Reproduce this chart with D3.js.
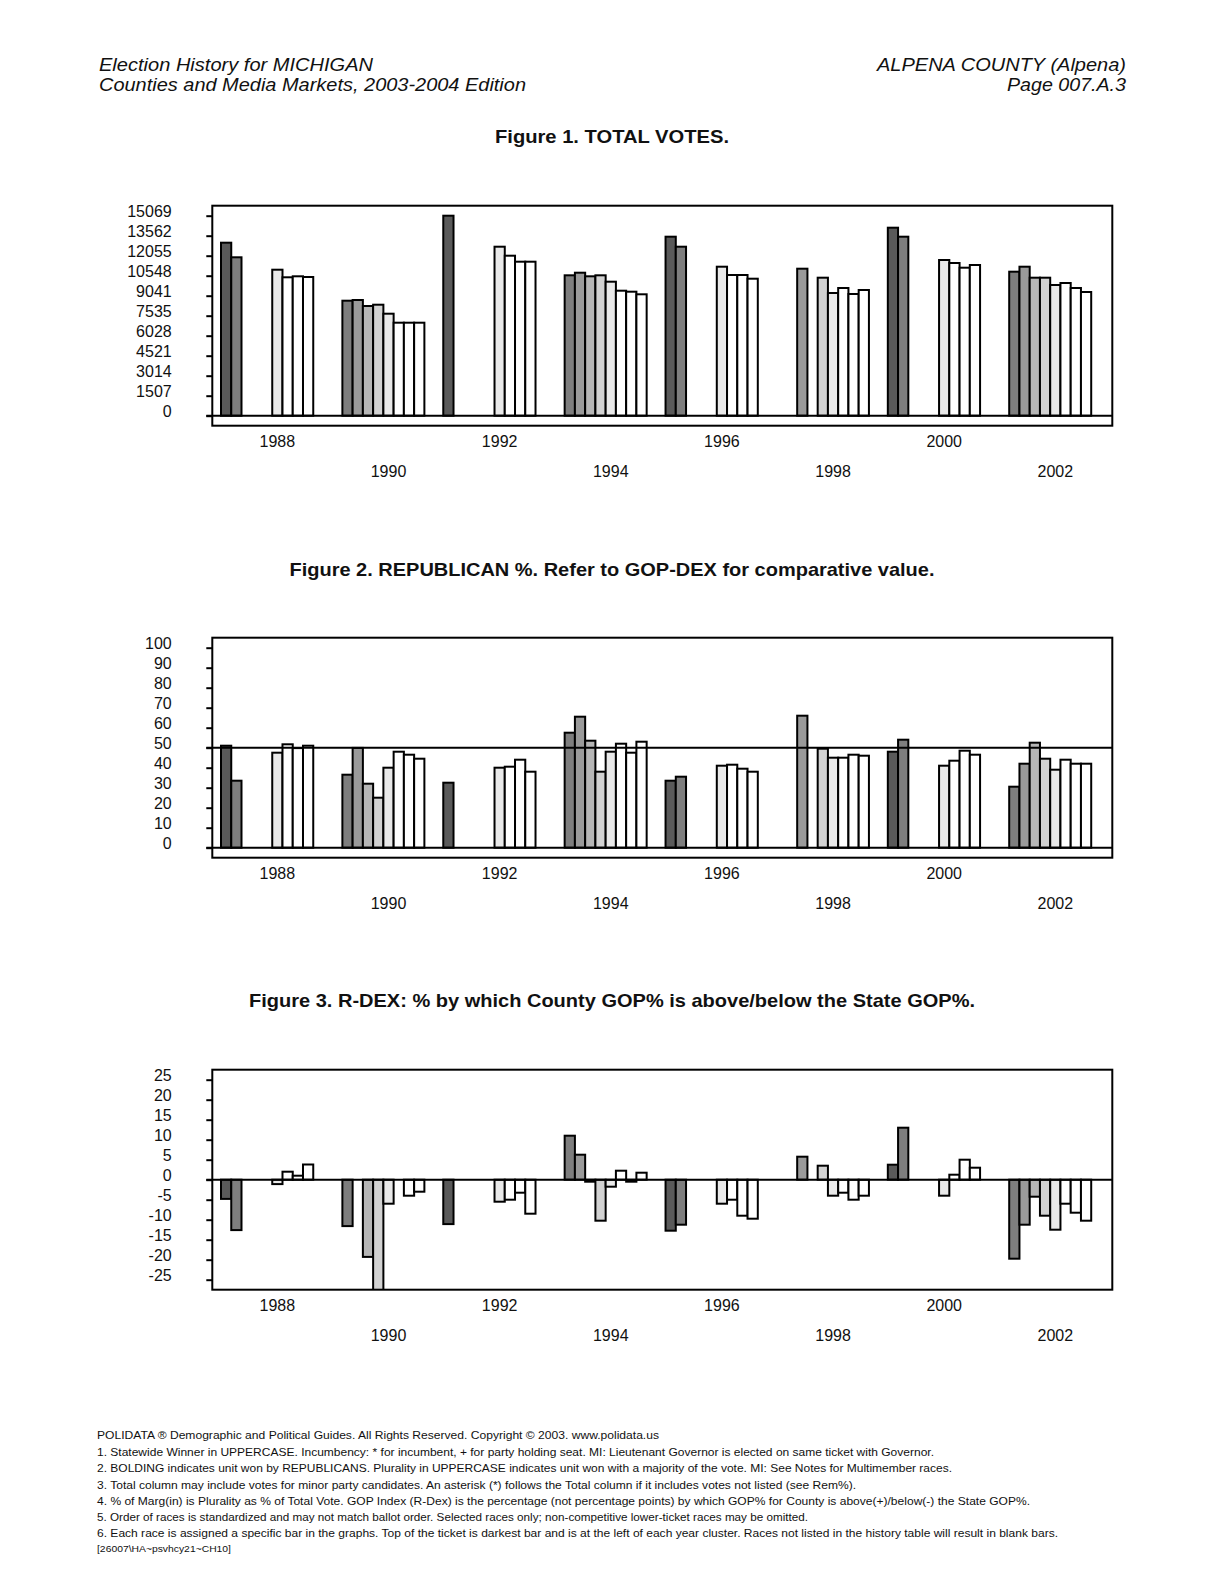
<!DOCTYPE html>
<html>
<head>
<meta charset="utf-8">
<script src="https://cdn.jsdelivr.net/npm/d3@7/dist/d3.min.js"></script>
<style>
  html, body { margin: 0; padding: 0; background: #fff; }
  text { font-family: "Liberation Sans", Arial, Helvetica, sans-serif; }
</style>
</head>
<body>
<script>
// ---------------- DATA ----------------
const years = [1988, 1990, 1992, 1994, 1996, 1998, 2000, 2002];
// 9 race slots per year cluster (left = top of the ticket); null = race not listed
const totalVotes = [
  [13035, 11935, null, null, null, 11000, 10428, 10503, 10450],
  [null, 8665, 8717, 8265, 8363, 7685, 7007, 7007, 7007],
  [15069, null, null, null, null, 12733, 12055, 11603, 11603],
  [null, 10578, 10774, 10503, 10578, 10096, 9418, 9343, 9147],
  [13487, 12733, null, null, null, 11226, 10601, 10601, 10322],
  [null, null, 11076, null, 10398, 9245, 9622, 9170, 9471],
  [14165, 13487, null, null, null, 11731, 11505, 11151, 11354],
  [null, 10850, 11226, 10398, 10398, 9848, 9998, 9622, 9320]
];
const gopPct = [
  [51, 33.5, null, null, null, 47.5, 51.7, 49.8, 51],
  [null, 36.5, 49.9, 32, 25, 40, 48, 46.5, 44.5],
  [32.5, null, null, null, null, 40, 40.5, 44, 38],
  [null, 57.5, 65.5, 53.5, 38, 48, 52, 47.5, 53],
  [33.5, 35.5, null, null, null, 41, 41.5, 39.5, 38],
  [null, null, 66, null, 49.5, 45, 45, 46.5, 46],
  [48, 54, null, null, null, 41, 43.5, 48.5, 46.5],
  [null, 30.5, 42, 52.5, 44.5, 39, 44, 42, 42]
];
const rdex = [
  [-4.8, -12.6, null, null, null, -1.1, 2, 1, 3.8],
  [null, -11.6, 0, -19.3, -30, -6, 0, -4, -3],
  [-11.1, null, null, null, null, -5.5, -5, -3.25, -8.5],
  [null, 11, 6.25, -0.5, -10.25, -1.75, 2.25, -0.5, 1.75],
  [-12.75, -11.25, null, null, null, -6, -5, -9, -9.75],
  [null, null, 5.75, null, 3.5, -4, -3.25, -5, -4],
  [3.75, 13, null, null, null, -4, 1.25, 5, 3],
  [null, -19.75, -11.25, -4.25, -9, -12.5, -6, -8.25, -10.25]
];
const votesTicks = ["0","1507","3014","4521","6028","7535","9041","10548","12055","13562","15069"];
const pctTicks = ["0","10","20","30","40","50","60","70","80","90","100"];
const rdexTicks = ["-25","-20","-15","-10","-5","0","5","10","15","20","25"];

const titles = [
  "Figure 1. TOTAL VOTES.",
  "Figure 2. REPUBLICAN %. Refer to GOP-DEX for comparative value.",
  "Figure 3. R-DEX: % by which County GOP% is above/below the State GOP%."
];
const headerLeft = ["Election History for MICHIGAN", "Counties and Media Markets, 2003-2004 Edition"];
const headerRight = ["ALPENA COUNTY (Alpena)", "Page 007.A.3"];
const footer = [
  "POLIDATA \u00AE Demographic and Political Guides. All Rights Reserved. Copyright \u00A9 2003. www.polidata.us",
  "1. Statewide Winner in UPPERCASE. Incumbency: * for incumbent, + for party holding seat. MI: Lieutenant Governor is elected on same ticket with Governor.",
  "2. BOLDING indicates unit won by REPUBLICANS. Plurality in UPPERCASE indicates unit won with a majority of the vote. MI: See Notes for Multimember races.",
  "3. Total column may include votes for minor party candidates. An asterisk (*) follows the Total column if it includes votes not listed (see Rem%).",
  "4. % of Marg(in) is Plurality as % of Total Vote. GOP Index (R-Dex) is the percentage (not percentage points) by which GOP% for County is above(+)/below(-) the State GOP%.",
  "5. Order of races is standardized and may not match ballot order. Selected races only; non-competitive lower-ticket races may be omitted.",
  "6. Each race is assigned a specific bar in the graphs. Top of the ticket is darkest bar and is at the left of each year cluster. Races not listed in the history table will result in blank bars.",
  "[26007\\HA~psvhcy21~CH10]"
];

// ---------------- STYLE / LAYOUT ----------------
const slotFills = ["#5a5a5a", "#7e7e7e", "#9a9a9a", "#b6b6b6", "#d2d2d2", "#e9e9e9", "#ffffff", "#ffffff", "#ffffff"];
const W = 1224, H = 1583;
const frameL = 212.3, frameR = 1112.3, frameH = 220;

const svg = d3.select("body").append("svg")
  .attr("width", W).attr("height", H)
  .attr("viewBox", `0 0 ${W} ${H}`);
svg.append("rect").attr("width", W).attr("height", H).attr("fill", "#fff");

// header
const hdr = svg.append("g").attr("font-style", "italic").attr("font-size", 18).attr("fill", "#111");
const hlLens = [274, 427];
const hrLens = [249, 119];
headerLeft.forEach((t, i) => {
  hdr.append("text").attr("x", 99).attr("y", 71 + i * 20).text(t)
    .attr("textLength", hlLens[i]).attr("lengthAdjust", "spacingAndGlyphs");
});
headerRight.forEach((t, i) => {
  hdr.append("text").attr("x", 1126).attr("y", 71 + i * 20).attr("text-anchor", "end").text(t)
    .attr("textLength", hrLens[i]).attr("lengthAdjust", "spacingAndGlyphs");
});

// shared x scales
const x0 = d3.scaleBand().domain(years).range([221, 1091.2]).paddingInner(0.17).paddingOuter(0);
const x1 = d3.scaleBand().domain(d3.range(9)).range([0, x0.bandwidth()]);

function drawChart(opt) {
  const { top, title, titleY, titleLen, data, domain, ticks, refLine, id } = opt;
  const g = svg.append("g");
  const bottom = top + frameH;
  const y = d3.scaleLinear().domain(domain).range([top + 210, top + 10]);

  // title
  g.append("text").attr("x", 612).attr("y", titleY).attr("text-anchor", "middle")
    .attr("font-weight", "bold").attr("font-size", 19).attr("fill", "#111")
    .attr("textLength", titleLen).attr("lengthAdjust", "spacingAndGlyphs")
    .text(title);

  // clip
  svg.append("clipPath").attr("id", id).append("rect")
    .attr("x", frameL).attr("y", top).attr("width", frameR - frameL).attr("height", frameH);

  // bars
  const bars = [];
  data.forEach((row, i) => row.forEach((v, j) => { if (v !== null) bars.push({ year: years[i], slot: j, v }); }));
  g.append("g").attr("clip-path", `url(#${id})`)
    .selectAll("rect").data(bars).join("rect")
    .attr("x", d => x0(d.year) + x1(d.slot))
    .attr("width", x1.bandwidth())
    .attr("y", d => Math.min(y(d.v), y(0)))
    .attr("height", d => Math.abs(y(d.v) - y(0)))
    .attr("fill", d => slotFills[d.slot])
    .attr("stroke", "#000").attr("stroke-width", 2);

  // axis
  const tv = ticks.map(Number);
  const ax = g.append("g").attr("transform", `translate(${frameL},0)`)
    .call(d3.axisLeft(y).tickValues(tv).tickFormat((d, i) => ticks[i]).tickSize(6).tickPadding(34.6));
  ax.select(".domain").remove();
  ax.selectAll(".tick line").attr("stroke", "#000").attr("stroke-width", 2);
  ax.selectAll(".tick text").attr("font-size", 16).attr("fill", "#111")
    .attr("font-family", "'Liberation Sans', Arial, sans-serif").attr("dy", "0.05em");

  // zero line & reference line
  g.append("line").attr("x1", frameL - 6).attr("x2", frameR).attr("y1", y(0)).attr("y2", y(0))
    .attr("stroke", "#000").attr("stroke-width", 2);
  if (refLine !== undefined) {
    g.append("line").attr("x1", frameL - 6).attr("x2", frameR).attr("y1", y(refLine)).attr("y2", y(refLine))
      .attr("stroke", "#000").attr("stroke-width", 2);
  }

  // frame
  g.append("rect").attr("x", frameL).attr("y", top).attr("width", frameR - frameL).attr("height", frameH)
    .attr("fill", "none").attr("stroke", "#000").attr("stroke-width", 2);

  // year labels (alternating rows)
  g.append("g").selectAll("text").data(years).join("text")
    .attr("x", d => x0(d) + x0.bandwidth() / 2 + x1.bandwidth())
    .attr("y", (d, i) => bottom + (i % 2 === 0 ? 21 : 51))
    .attr("text-anchor", "middle").attr("font-size", 16).attr("fill", "#111")
    .text(d => d);
}

drawChart({ id: "c1", top: 205.7, title: titles[0], titleY: 143, titleLen: 234,
  data: totalVotes, domain: [0, 15069], ticks: votesTicks });
drawChart({ id: "c2", top: 637.7, title: titles[1], titleY: 576, titleLen: 645,
  data: gopPct, domain: [0, 100], ticks: pctTicks, refLine: 50 });
drawChart({ id: "c3", top: 1069.7, title: titles[2], titleY: 1007, titleLen: 726,
  data: rdex, domain: [-25, 25], ticks: rdexTicks });

// footer
const footLens = [562, 837, 855, 759, 933, 711, 961, 134];
const footY = [1439, 1456, 1472, 1489, 1505, 1521, 1537, 1552];
const ft = svg.append("g").attr("fill", "#111");
footer.forEach((t, i) => {
  ft.append("text").attr("x", 97).attr("y", footY[i]).attr("font-size", i === 7 ? 9 : 11.5)
    .attr("textLength", footLens[i]).attr("lengthAdjust", "spacingAndGlyphs").text(t);
});
</script>
</body>
</html>
